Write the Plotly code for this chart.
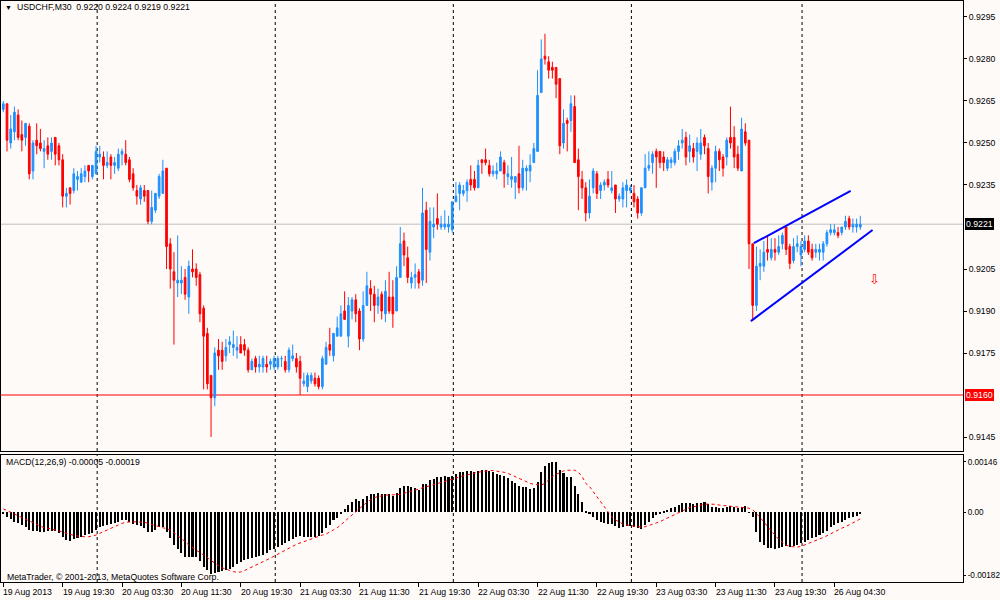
import plotly.graph_objects as go

# --- chart data (USDCHF M30) -----------------------------------------------
SYMBOL_TITLE = "USDCHF,M30  0.9220 0.9224 0.9219 0.9221"
MACD_TITLE = "MACD(12,26,9) -0.00005 -0.00019"
COPYRIGHT = "MetaTrader, \u00a9 2001-2013, MetaQuotes Software Corp."

# prices in pips (1 pip = 0.0001)
OPEN_PIPS = [
    9262, 9264, 9250, 9254, 9260, 9253, 9252, 9256, 9240, 9251,
    9250, 9247, 9249, 9247, 9252, 9249, 9244, 9231, 9234, 9233,
    9237, 9236, 9238, 9242, 9238, 9239, 9245, 9245, 9242, 9245,
    9242, 9241, 9246, 9246, 9244, 9239, 9233, 9230, 9233, 9233,
    9222, 9226, 9231, 9232, 9241, 9214, 9204, 9200, 9200, 9202,
    9195, 9205, 9205, 9203, 9191, 9182, 9167, 9159, 9176, 9176,
    9174, 9178, 9177, 9176, 9178, 9178, 9176, 9169, 9173, 9170,
    9170, 9171, 9171, 9170, 9170, 9173, 9172, 9169, 9173, 9173,
    9172, 9164, 9163, 9165, 9166, 9166, 9163, 9171, 9178, 9174,
    9181, 9181, 9190, 9181, 9190, 9194, 9190, 9180, 9192, 9198,
    9196, 9192, 9196, 9189, 9195, 9195, 9190, 9202, 9215, 9209,
    9200, 9202, 9204, 9201, 9226, 9211, 9220, 9223, 9220, 9220,
    9220, 9219, 9229, 9232, 9232, 9233, 9237, 9237, 9234, 9244,
    9244, 9242, 9239, 9239, 9240, 9243, 9238, 9237, 9236, 9239,
    9234, 9240, 9240, 9243, 9247, 9268, 9281, 9279, 9277, 9277,
    9273, 9250, 9258, 9258, 9263, 9244, 9237, 9234, 9225, 9234,
    9239, 9233, 9235, 9237, 9233, 9235, 9230, 9230, 9233, 9233,
    9232, 9230, 9225, 9234, 9241, 9243, 9247, 9247, 9245, 9241,
    9243, 9243, 9247, 9250, 9252, 9247, 9248, 9247, 9246, 9252,
    9248, 9236, 9241, 9247, 9245, 9245, 9252, 9252, 9246, 9240,
    9254, 9251, 9214, 9192, 9206, 9206, 9212, 9209, 9212, 9211,
    9214, 9220, 9213, 9208, 9213, 9210, 9212, 9215, 9212, 9211,
    9211, 9211, 9214, 9218, 9218, 9218, 9218, 9220, 9223, 9220,
    9220, 9220,
]
HIGH_PIPS = [
    9265, 9264, 9260, 9263, 9262, 9258, 9257, 9257, 9251, 9257,
    9255, 9251, 9252, 9252, 9252, 9250, 9246, 9234, 9234, 9241,
    9240, 9241, 9242, 9242, 9242, 9249, 9249, 9247, 9247, 9246,
    9245, 9248, 9248, 9251, 9245, 9241, 9235, 9235, 9235, 9233,
    9233, 9232, 9239, 9244, 9241, 9216, 9211, 9217, 9206, 9205,
    9208, 9212, 9207, 9204, 9192, 9184, 9167, 9177, 9180, 9179,
    9180, 9181, 9183, 9181, 9181, 9180, 9177, 9173, 9174, 9174,
    9174, 9174, 9173, 9174, 9174, 9174, 9174, 9177, 9178, 9175,
    9174, 9168, 9168, 9168, 9168, 9167, 9174, 9179, 9184, 9182,
    9188, 9192, 9197, 9195, 9195, 9196, 9191, 9197, 9204, 9201,
    9199, 9198, 9197, 9201, 9204, 9201, 9206, 9220, 9218, 9213,
    9204, 9207, 9205, 9234, 9229, 9227, 9227, 9232, 9224, 9226,
    9224, 9229, 9236, 9236, 9235, 9237, 9242, 9240, 9244, 9244,
    9248, 9244, 9242, 9243, 9247, 9244, 9242, 9245, 9238, 9249,
    9244, 9242, 9246, 9250, 9276, 9287, 9289, 9281, 9279, 9277,
    9273, 9262, 9259, 9267, 9267, 9248, 9240, 9236, 9237, 9241,
    9240, 9236, 9237, 9240, 9240, 9235, 9232, 9236, 9237, 9235,
    9235, 9231, 9234, 9246, 9247, 9247, 9248, 9247, 9247, 9245,
    9245, 9248, 9251, 9255, 9254, 9253, 9250, 9252, 9255, 9253,
    9250, 9242, 9249, 9248, 9246, 9252, 9263, 9256, 9249, 9259,
    9257, 9251, 9214, 9213, 9212, 9215, 9217, 9216, 9216, 9217,
    9218, 9220, 9214, 9216, 9217, 9215, 9217, 9217, 9214, 9214,
    9214, 9215, 9219, 9221, 9221, 9220, 9220, 9224, 9224, 9223,
    9223, 9224,
]
LOW_PIPS = [
    9261, 9247, 9248, 9251, 9251, 9247, 9249, 9237, 9237, 9246,
    9247, 9241, 9244, 9244, 9242, 9242, 9227, 9227, 9228, 9232,
    9233, 9236, 9236, 9236, 9237, 9239, 9243, 9237, 9241, 9237,
    9239, 9240, 9242, 9242, 9236, 9233, 9228, 9228, 9229, 9221,
    9221, 9225, 9230, 9232, 9205, 9198, 9178, 9195, 9196, 9194,
    9189, 9202, 9199, 9186, 9162, 9162, 9145, 9156, 9169, 9169,
    9172, 9175, 9174, 9173, 9175, 9174, 9168, 9169, 9168, 9168,
    9168, 9168, 9169, 9169, 9169, 9170, 9168, 9168, 9172, 9168,
    9160, 9163, 9161, 9164, 9163, 9162, 9162, 9171, 9174, 9172,
    9181, 9181, 9187, 9177, 9187, 9186, 9176, 9179, 9192, 9190,
    9186, 9189, 9187, 9186, 9189, 9184, 9190, 9202, 9206, 9200,
    9198, 9198, 9198, 9199, 9200, 9208, 9216, 9219, 9219, 9219,
    9218, 9218, 9229, 9226, 9231, 9229, 9233, 9233, 9234, 9239,
    9242, 9238, 9238, 9237, 9240, 9234, 9235, 9234, 9230, 9232,
    9233, 9233, 9236, 9243, 9247, 9268, 9278, 9273, 9273, 9266,
    9246, 9248, 9247, 9254, 9243, 9226, 9230, 9222, 9223, 9232,
    9230, 9230, 9233, 9234, 9232, 9225, 9229, 9227, 9227, 9232,
    9227, 9223, 9224, 9234, 9240, 9239, 9234, 9241, 9240, 9240,
    9241, 9242, 9244, 9248, 9242, 9243, 9243, 9240, 9244, 9246,
    9232, 9233, 9236, 9240, 9238, 9242, 9248, 9241, 9240, 9240,
    9249, 9205, 9187, 9190, 9201, 9204, 9208, 9208, 9208, 9210,
    9212, 9210, 9205, 9207, 9211, 9206, 9211, 9210, 9208, 9209,
    9208, 9208, 9213, 9217, 9217, 9216, 9217, 9219, 9219, 9218,
    9218, 9219,
]
CLOSE_PIPS = [
    9264, 9251, 9255, 9261, 9252, 9251, 9257, 9239, 9250, 9249,
    9248, 9248, 9246, 9250, 9246, 9244, 9231, 9232, 9232, 9239,
    9238, 9239, 9240, 9240, 9242, 9247, 9246, 9242, 9243, 9242,
    9243, 9246, 9247, 9243, 9237, 9234, 9231, 9234, 9231, 9222,
    9227, 9232, 9238, 9240, 9213, 9205, 9201, 9201, 9201, 9196,
    9206, 9204, 9202, 9189, 9181, 9164, 9159, 9175, 9174, 9172,
    9177, 9179, 9178, 9177, 9175, 9176, 9169, 9172, 9170, 9171,
    9173, 9170, 9172, 9173, 9173, 9173, 9169, 9176, 9174, 9170,
    9166, 9165, 9167, 9167, 9164, 9163, 9173, 9177, 9176, 9182,
    9184, 9189, 9187, 9192, 9194, 9189, 9180, 9192, 9199, 9196,
    9192, 9195, 9190, 9197, 9190, 9189, 9202, 9214, 9210, 9202,
    9202, 9203, 9200, 9225, 9212, 9222, 9221, 9221, 9221, 9221,
    9221, 9229, 9231, 9235, 9233, 9236, 9235, 9234, 9242, 9243,
    9243, 9239, 9240, 9240, 9245, 9239, 9239, 9238, 9238, 9234,
    9241, 9241, 9242, 9248, 9267, 9280, 9280, 9276, 9276, 9271,
    9249, 9257, 9257, 9264, 9243, 9238, 9234, 9225, 9231, 9240,
    9232, 9235, 9236, 9235, 9234, 9230, 9231, 9234, 9235, 9234,
    9229, 9225, 9234, 9241, 9242, 9246, 9245, 9243, 9243, 9244,
    9244, 9247, 9249, 9251, 9245, 9249, 9245, 9250, 9250, 9249,
    9238, 9241, 9247, 9244, 9241, 9251, 9250, 9245, 9241, 9255,
    9250, 9214, 9192, 9206, 9207, 9211, 9211, 9212, 9211, 9213,
    9217, 9212, 9207, 9213, 9214, 9213, 9215, 9211, 9209, 9212,
    9212, 9214, 9218, 9219, 9219, 9217, 9220, 9222, 9220, 9221,
    9221, 9221,
]

# MACD main (histogram) and signal, in units of 0.00001
MACD_E5 = [
    -3, -13, -20, -27, -32, -37, -42, -51, -53, -54,
    -56, -56, -54, -53, -53, -59, -71, -80, -83, -78,
    -75, -71, -66, -63, -59, -51, -44, -40, -37, -34,
    -32, -27, -22, -22, -27, -34, -37, -40, -46, -56,
    -56, -51, -44, -42, -56, -75, -95, -107, -119, -131,
    -131, -131, -131, -140, -158, -167, -179, -177, -172, -169,
    -167, -165, -158, -150, -143, -138, -136, -133, -131, -127,
    -124, -117, -110, -105, -100, -94, -88, -82, -77, -72,
    -69, -71, -71, -71, -71, -69, -61, -46, -37, -22,
    -16, -3, 10, 21, 31, 38, 33, 39, 47, 52,
    52, 55, 52, 52, 52, 48, 55, 70, 75, 75,
    73, 70, 65, 81, 81, 94, 97, 102, 102, 104,
    102, 105, 110, 116, 118, 120, 120, 118, 120, 123,
    123, 120, 116, 110, 108, 104, 99, 91, 84, 75,
    73, 72, 68, 70, 89, 116, 135, 142, 147, 147,
    123, 113, 102, 101, 75, 52, 31, 4, -6, -13,
    -22, -27, -32, -34, -35, -39, -45, -42, -39, -39,
    -42, -46, -48, -37, -27, -17, -8, -3, 1, 7,
    12, 16, 21, 26, 26, 26, 23, 26, 28, 30,
    23, 16, 16, 12, 12, 16, 18, 16, 12, 16,
    19, -1, -13, -56, -85, -95, -103, -104, -106, -103,
    -100, -97, -100, -97, -95, -90, -87, -80, -75, -71,
    -66, -61, -54, -42, -37, -32, -27, -22, -17, -13,
    -10, -5,
]
SIGNAL_E5 = [
    10, 5, 0, -5, -10, -16, -22, -27, -32, -37,
    -42, -45, -46, -48, -51, -54, -57, -61, -64, -67,
    -69, -71, -71, -71, -69, -66, -61, -56, -51, -46,
    -42, -37, -32, -29, -27, -27, -28, -28, -29, -32,
    -35, -39, -42, -44, -46, -51, -59, -67, -75, -85,
    -95, -103, -109, -117, -124, -132, -140, -148, -155, -161,
    -165, -169, -172, -174, -173, -169, -164, -160, -154, -148,
    -143, -138, -133, -127, -121, -116, -111, -105, -98, -93,
    -89, -85, -80, -77, -74, -70, -66, -63, -58, -51,
    -45, -37, -27, -17, -8, 2, 12, 21, 29, 36,
    43, 45, 48, 50, 50, 50, 50, 52, 55, 58,
    62, 65, 67, 70, 73, 76, 79, 84, 87, 89,
    92, 95, 99, 103, 106, 109, 112, 114, 116, 118,
    120, 121, 121, 120, 118, 116, 113, 108, 104, 99,
    94, 89, 84, 81, 79, 79, 84, 94, 104, 110,
    116, 120, 122, 123, 122, 116, 104, 84, 75, 60,
    45, 29, 14, 0, -13, -22, -29, -34, -37, -39,
    -41, -43, -43, -42, -39, -35, -31, -27, -22, -17,
    -12, -6, 0, 5, 10, 14, 16, 19, 21, 23,
    24, 24, 23, 21, 20, 19, 18, 17, 16, 16,
    15, 12, 7, -3, -16, -27, -42, -54, -68, -78,
    -87, -95, -99, -101, -101, -99, -95, -91, -87, -82,
    -77, -73, -68, -62, -56, -51, -46, -42, -37, -32,
    -25, -19,
]

TIME_LABELS = [
    "19 Aug 2013", "19 Aug 19:30", "20 Aug 03:30", "20 Aug 11:30",
    "20 Aug 19:30", "21 Aug 03:30", "21 Aug 11:30", "21 Aug 19:30",
    "22 Aug 03:30", "22 Aug 11:30", "22 Aug 19:30", "23 Aug 03:30",
    "23 Aug 11:30", "23 Aug 19:30", "26 Aug 04:30",
]
BARS_PER_LABEL = 16
DAY_START_BARS = [25, 73, 121, 169, 215]   # first bar of each new day

PRICE_TICKS = [0.9145, 0.9175, 0.9190, 0.9205, 0.9235, 0.9250, 0.9265, 0.9280, 0.9295]
MACD_TICKS = [0.00146, 0.0, -0.00182]
MACD_TICK_TEXT = ["0.00146", "0.00", "-0.00182"]

BID = 0.9221
LEVEL = 0.9160

# drawn objects: (bar index, price)
TREND_UPPER_BAR = [202.3, 228.4]
TREND_UPPER_PRICE = [0.92142, 0.92329]
TREND_LOWER_BAR = [201.5, 234.3]
TREND_LOWER_PRICE = [0.91864, 0.92189]
ARROW_BAR, ARROW_PRICE = 234.8, 0.92011

# --- styling ---------------------------------------------------------------
W, H = 1000, 600
BG = "#FDFAF8"
BULL = "#1E90FF"
BEAR = "#FF0000"
FONT = "Liberation Sans"
FS = 8.7


def py(y_px: float) -> float:
    return 1 - y_px / H


def build_figure() -> go.Figure:
    bars = list(range(len(CLOSE_PIPS)))
    opens = [p / 10000 for p in OPEN_PIPS]
    highs = [p / 10000 for p in HIGH_PIPS]
    lows = [p / 10000 for p in LOW_PIPS]
    closes = [p / 10000 for p in CLOSE_PIPS]
    macd = [v / 1e5 for v in MACD_E5]
    signal = [v / 1e5 for v in SIGNAL_E5]

    fig = go.Figure()

    fig.add_trace(go.Candlestick(
        x=bars, open=opens, high=highs, low=lows, close=closes,
        increasing=dict(line=dict(color=BULL, width=1), fillcolor=BULL),
        decreasing=dict(line=dict(color=BEAR, width=1), fillcolor=BEAR),
        whiskerwidth=0, hoverinfo="skip", xaxis="x", yaxis="y",
    ))
    for bx, by in ((TREND_UPPER_BAR, TREND_UPPER_PRICE), (TREND_LOWER_BAR, TREND_LOWER_PRICE)):
        fig.add_trace(go.Scatter(
            x=bx, y=by, mode="lines", line=dict(color="#0000FF", width=2),
            hoverinfo="skip", xaxis="x", yaxis="y",
        ))

    fig.add_trace(go.Bar(
        x=bars, y=macd, width=0.55, marker=dict(color="black", line=dict(width=0)),
        hoverinfo="skip", xaxis="x2", yaxis="y2",
    ))
    fig.add_trace(go.Scatter(
        x=bars, y=signal, mode="lines", line=dict(color="red", width=1, dash="dot"),
        hoverinfo="skip", xaxis="x2", yaxis="y2",
    ))

    # scales: bar i sits at ~3.3 + 3.71*i px, price 1 pip = 2.8 px, MACD 1 px = 0.000029
    x_range = [-0.62, 258.68]
    x_dom = [0.001, 0.963]
    axis_common = dict(showgrid=False, zeroline=False, showline=True, mirror=True,
                       linecolor="black", linewidth=1)
    tick_font = dict(family=FONT, size=FS, color="black")

    shapes = []
    for g in DAY_START_BARS:
        for xr, yr in (("x", "y domain"), ("x2", "y2 domain")):
            shapes.append(dict(type="line", xref=xr, yref=yr, x0=g + 0.3, x1=g + 0.3, y0=0, y1=1,
                               line=dict(color="black", width=1, dash="dot"), layer="below"))
    shapes.append(dict(type="line", xref="x domain", yref="y", x0=0, x1=1, y0=BID, y1=BID,
                       line=dict(color="#C0C0C0", width=1), layer="below"))
    shapes.append(dict(type="line", xref="x domain", yref="y", x0=0, x1=1, y0=LEVEL, y1=LEVEL,
                       line=dict(color="#FF0000", width=1), layer="below"))

    ann = []
    txt = dict(family=FONT, size=FS, color="black")
    ann.append(dict(text="\u25bc", x=0.003, y=py(7), xref="paper", yref="paper", xanchor="left",
                    yanchor="middle", showarrow=False, font=dict(family=FONT, size=7, color="black")))
    ann.append(dict(text=SYMBOL_TITLE.replace("  ", "&nbsp; "), x=0.015, y=py(7), xref="paper",
                    yref="paper", xanchor="left", yanchor="middle", showarrow=False, font=txt))
    ann.append(dict(text=MACD_TITLE, x=0.004, y=py(462), xref="paper", yref="paper",
                    xanchor="left", yanchor="middle", showarrow=False, font=txt))
    ann.append(dict(text=COPYRIGHT, x=0.005, y=py(577), xref="paper", yref="paper",
                    xanchor="left", yanchor="middle", showarrow=False, font=txt))
    for k, label in enumerate(TIME_LABELS):
        ann.append(dict(text=label, x=k * BARS_PER_LABEL, y=py(592), xref="x2", yref="paper",
                        xanchor="left", yanchor="middle", xshift=-2, showarrow=False, font=txt))
    for val, bg in ((BID, "black"), (LEVEL, "#FF0000")):
        ann.append(dict(text=f"{val:.4f}", x=0.965, y=val, xref="paper", yref="y",
                        xanchor="left", yanchor="middle", showarrow=False, bgcolor=bg,
                        borderpad=1, borderwidth=0,
                        font=dict(family=FONT, size=FS, color="white")))
    ann.append(dict(text="\u21e9", x=ARROW_BAR, y=ARROW_PRICE, xref="x", yref="y",
                    showarrow=False, font=dict(family="DejaVu Sans", size=13, color="#FF0000")))

    fig.update_layout(
        width=W, height=H, autosize=False, template="none",
        margin=dict(l=0, r=0, t=0, b=0),
        paper_bgcolor=BG, plot_bgcolor=BG,
        showlegend=False, boxgap=0.35, bargap=0,
        xaxis=dict(domain=x_dom, range=x_range, anchor="y", showticklabels=False, ticks="",
                   rangeslider=dict(visible=False), **axis_common),
        yaxis=dict(domain=[py(451), py(1)], range=[0.91400, 0.930071], anchor="x", side="right",
                   tickvals=PRICE_TICKS, ticktext=[f"{v:.4f}" for v in PRICE_TICKS],
                   ticks="outside", ticklen=3, tickcolor="black", tickfont=tick_font,
                   automargin=False, **axis_common),
        xaxis2=dict(domain=x_dom, range=x_range, anchor="y2", showticklabels=False,
                    tickvals=[k * BARS_PER_LABEL for k in range(len(TIME_LABELS))],
                    ticks="outside", ticklen=4, tickcolor="black",
                    rangeslider=dict(visible=False), **axis_common),
        yaxis2=dict(domain=[py(582), py(455)], range=[-0.0020213, 0.0016617], anchor="x2",
                    side="right", tickvals=MACD_TICKS, ticktext=MACD_TICK_TEXT,
                    ticks="outside", ticklen=2, tickcolor="black",
                    tickfont=dict(family=FONT, size=8.2, color="black"),
                    automargin=False, **axis_common),
        shapes=shapes,
        annotations=ann,
    )
    return fig


def main() -> None:
    fig = build_figure()
    # the page's default body margin would shift the 1000x600 chart off the window
    fig.write_html("out.html", config={"displayModeBar": False},
                   post_script="document.body.style.margin = '0';")


if __name__ == "__main__":
    main()
